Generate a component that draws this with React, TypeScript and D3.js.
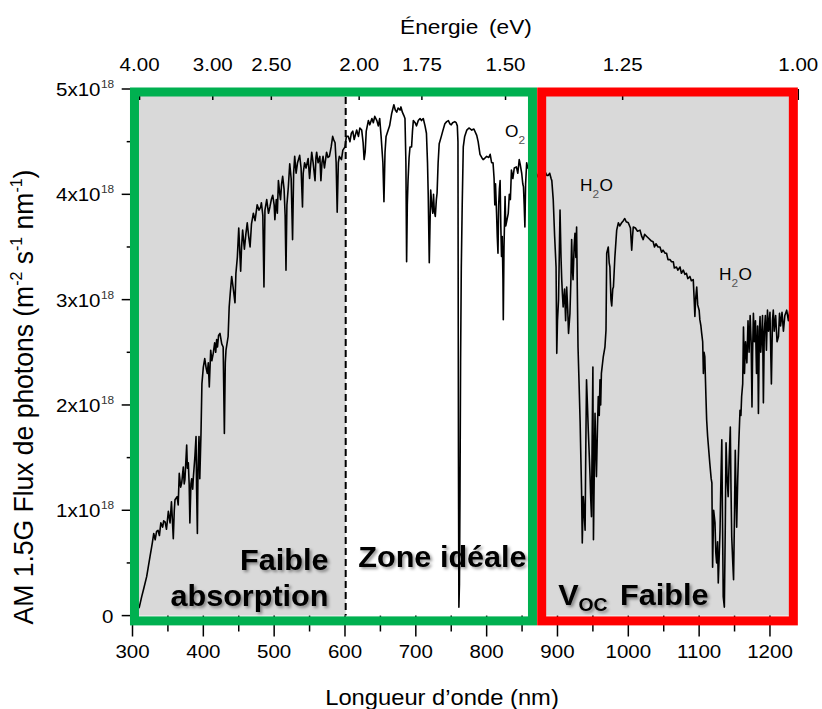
import React from 'react';
import * as d3 from 'd3';

// AM1.5G photon flux spectrum: [wavelength nm, flux in 1e18 m-2 s-1 nm-1]
const spectrum: [number, number][] = [
  [300,0.0],[303,0.02],[306,0.05],[309.6,0.08],[313,0.18],[316,0.26],[320,0.37],[322,0.45],[324.7,0.56],[327,0.65],
  [328,0.69],[330,0.78],[332,0.72],[334,0.8],[336,0.81],[338,0.76],[340,0.88],[342.6,0.84],[344,0.9],[346,0.89],
  [348,0.82],[350.6,0.99],[353,0.88],[355,1.08],[356,0.95],[357.6,0.73],[359,1.0],[360,1.1],[363,1.13],[364.5,1.05],
  [366,1.35],[368,1.22],[369.5,1.26],[371.7,1.41],[373,1.25],[374,1.29],[376.5,1.62],[377.5,1.4],[378.8,1.45],[380,1.25],
  [381,0.88],[382.5,1.25],[383.6,1.3],[385,1.2],[386,1.32],[388,1.5],[389.7,1.7],[390.5,1.2],[391.6,0.78],[392.5,1.4],
  [393.9,1.7],[395,1.3],[396.7,1.73],[398,2.2],[400,2.36],[402,2.44],[404,2.35],[405.6,2.3],[407,2.4],[408.4,2.17],
  [410.4,2.52],[412,2.42],[414,2.49],[416,2.59],[417.5,2.5],[418.8,2.62],[420,2.55],[421.5,2.66],[423.5,2.68],[426,2.58],
  [428,2.55],[429.7,1.73],[431,2.4],[432,2.52],[435,2.65],[436.5,2.93],[438,3.06],[440,3.22],[442,3.12],[444.7,2.97],
  [446,3.25],[448,3.4],[450,3.68],[451.5,3.45],[452.7,3.27],[454,3.5],[455.5,3.66],[457,3.55],[458,3.48],[460,3.62],
  [462,3.73],[464,3.6],[466,3.5],[468,3.72],[470.6,3.82],[473,3.75],[476,3.9],[478.7,3.85],[481,3.88],[482,3.92],
  [484,3.8],[485.6,3.12],[487,3.85],[489.5,3.95],[492,3.82],[494,3.88],[496,3.95],[498,3.99],[500,3.9],[501,3.76],
  [503,3.95],[504.5,3.82],[506,4.13],[508,4.0],[509,3.95],[510.5,4.1],[512,4.17],[514,4.05],[515.5,3.8],[516.7,3.28],
  [518,3.9],[520,4.07],[522,4.29],[524,4.15],[526,3.57],[527.5,4.2],[529,4.36],[531,4.2],[533,4.3],[536,4.37],
  [538,4.25],[540,3.88],[541,4.2],[543,4.3],[545,4.25],[548,4.34],[550,4.15],[553,4.4],[555,4.3],[557.7,4.13],
  [559,4.35],[560,4.4],[562,4.3],[564.5,4.36],[566,4.13],[567.5,4.3],[569,4.36],[571,4.25],[574,4.4],[576,4.35],
  [578,4.36],[580.5,4.45],[582.6,4.55],[584,4.52],[586,4.49],[587.5,4.3],[589,3.83],[590.6,4.3],[592,4.36],[595,4.33],
  [597,4.42],[600,4.45],[602,4.55],[604.7,4.55],[607,4.5],[609,4.58],[611,4.6],[613,4.52],[616.5,4.61],[619,4.55],
  [621,4.63],[623.6,4.61],[625.6,4.49],[627,4.33],[628.5,4.4],[630,4.6],[633,4.7],[635,4.66],[638,4.72],[640,4.68],
  [642,4.74],[645,4.7],[647,4.65],[649,4.72],[651,4.55],[652,4.45],[653.5,4.3],[655,3.93],[656.5,4.4],[658,4.55],
  [661,4.61],[663,4.65],[666,4.77],[669,4.85],[671,4.8],[673,4.78],[675,4.82],[677.7,4.8],[679,4.83],[681,4.78],
  [683,4.75],[684.7,4.72],[686,4.3],[687,3.36],[688,3.9],[689,4.13],[690.5,4.35],[691.8,4.45],[694,4.45],[695.3,4.6],
  [696.5,4.7],[699,4.68],[701,4.65],[703.5,4.7],[706,4.72],[708,4.7],[710.5,4.72],[713,4.65],[715,4.58],[716.5,4.3],
  [717.5,4.0],[719,3.35],[720,3.7],[721,4.04],[722.5,3.9],[724,3.82],[725,4.0],[726,3.85],[727.5,3.79],[729,3.95],
  [730,4.01],[731.5,4.3],[733,4.48],[736,4.55],[738,4.6],[741,4.67],[743.6,4.69],[746,4.7],[748,4.67],[750,4.66],
  [752,4.68],[755,4.69],[757,4.68],[758.6,4.65],[759.5,4.5],[760.2,1.5],[760.8,0.08],[761.6,0.3],[762.4,1.2],[763.2,2.4],
  [764.2,3.3],[765.5,3.9],[767,4.45],[769,4.55],[772,4.61],[775,4.63],[779,4.61],[782,4.62],[786,4.56],[788,4.5],
  [790.6,4.38],[793,4.35],[795,4.33],[797,4.34],[800,4.36],[803,4.35],[805,4.38],[807,4.3],[809,4.3],[810.5,4.15],
  [811.5,3.9],[812.5,4.1],[814,3.82],[815,3.6],[816,3.44],[817,3.9],[818,4.05],[819,4.13],[820,3.7],[821,3.41],
  [822,3.6],[823,3.2],[823.5,2.81],[824.5,3.5],[826,3.98],[827,3.7],[828.5,3.75],[830.5,3.82],[832,4.0],[833.5,3.95],
  [835,4.23],[837,4.15],[839,4.25],[842,4.26],[844,4.2],[846,4.33],[847.5,4.28],[849.5,4.2],[851,4.1],[852,4.07],
  [853,3.9],[854,3.69],[855,4.1],[856.5,4.3],[858,4.25],[860,4.28],[863,4.22],[866,4.25],[870,4.2],[874,4.15],
  [878,4.2],[882,4.22],[885,4.18],[887,4.18],[889,4.2],[891,4.15],[892,4.13],[894,3.95],[896,3.6],[898,3.31],
  [899,2.49],[900,2.8],[901.5,3.0],[903.6,3.85],[905,3.4],[906,3.19],[907,3.05],[908,2.93],[910,3.1],[911.5,2.8],
  [913,3.12],[914.5,2.9],[915.6,2.68],[917.6,2.87],[919,3.2],[920,3.57],[921,3.3],[922,3.19],[923.5,3.5],[924.7,3.63],
  [926,3.4],[927,3.69],[928,3.1],[929,2.55],[930.5,2.2],[932,1.83],[933,1.5],[934,1.19],[935,0.69],[936.4,1.13],
  [937.5,1.0],[939,0.81],[940,1.6],[941,2.24],[942.3,2.0],[943.5,1.76],[945,1.5],[946,1.32],[947,1.1],[948,0.94],
  [949,1.7],[950,2.36],[950.8,0.72],[952,1.4],[953,1.92],[954,1.6],[955,1.32],[956.5,1.8],[957.6,2.08],[959,1.9],
  [960,2.24],[961,2.0],[962,2.3],[964.7,2.46],[967,2.55],[968.5,2.71],[969.5,3.44],[971.7,3.5],[973,3.35],[974,3.31],
  [975.5,3.0],[976.6,2.94],[978,3.1],[979,3.12],[981,3.4],[983.6,3.66],[986,3.73],[988,3.7],[990.6,3.73],[993,3.75],
  [995,3.77],[997,3.74],[1000,3.73],[1003,3.68],[1004.8,3.47],[1006,3.6],[1007,3.69],[1010,3.68],[1013,3.65],[1016.5,3.66],
  [1019,3.6],[1021,3.57],[1023,3.62],[1026,3.6],[1029,3.58],[1032,3.56],[1035,3.55],[1037,3.5],[1039,3.53],[1042,3.5],
  [1044.7,3.5],[1047,3.45],[1049,3.47],[1052,3.44],[1054,3.44],[1056,3.38],[1059,3.38],[1061,3.36],[1063.5,3.36],[1065,3.3],
  [1068,3.31],[1070,3.28],[1073,3.31],[1075,3.25],[1077.6,3.28],[1080,3.24],[1082,3.25],[1084,3.2],[1087,3.22],[1089,3.18],
  [1091.7,3.19],[1093,3.0],[1094,2.84],[1095,3.0],[1096.6,3.12],[1098,2.95],[1100,2.9],[1101,2.81],[1102.5,2.75],[1103.6,2.68],
  [1105,2.6],[1106,2.3],[1107,2.5],[1108,2.46],[1109.5,2.1],[1110.6,1.86],[1112,1.7],[1115,1.45],[1117,1.3],[1118,1.26],
  [1119,0.46],[1120.5,1.0],[1122.4,0.88],[1123.5,0.6],[1124.7,0.5],[1126,0.7],[1127,0.31],[1128.5,0.6],[1129.5,0.81],[1130.5,1.2],
  [1132,1.67],[1133,0.9],[1134,0.18],[1135.6,0.08],[1137,0.9],[1138,1.64],[1139.5,1.3],[1141,1.13],[1142.5,1.5],[1144,1.79],
  [1145,1.2],[1146,0.75],[1147.5,0.5],[1148.6,0.34],[1150,1.0],[1151,1.57],[1152,1.2],[1153,0.84],[1154.5,1.3],[1156,1.64],
  [1157.7,1.95],[1159,1.9],[1160,2.08],[1161.5,2.2],[1162.6,2.74],[1164,2.3],[1165.5,2.6],[1167.4,2.4],[1169,2.8],[1170.5,2.5],
  [1172,2.85],[1173.5,2.58],[1174.6,1.98],[1175.5,2.5],[1176.6,2.87],[1178,2.6],[1179.5,2.8],[1181,2.3],[1182.5,2.75],[1183.7,1.92],
  [1185,2.7],[1186,2.84],[1187,2.5],[1188,2.62],[1189.5,2.85],[1190.7,2.02],[1192,2.7],[1193.5,2.85],[1195,2.52],[1196.5,2.9],
  [1198,2.7],[1200,2.88],[1202,2.2],[1203.5,2.8],[1204.7,2.9],[1206,2.7],[1208,2.85],[1210,2.6],[1212,2.65],[1213.5,2.87],
  [1215,2.75],[1217,2.88],[1219,2.7],[1221,2.85],[1223.6,2.9],[1226,2.8],[1228,2.9],[1230,2.88],[1233,2.9],
];

const wavelengthTicks = [300, 400, 500, 600, 700, 800, 900, 1000, 1100, 1200];
const wavelengthMinorTicks = [350, 450, 550, 650, 750, 850, 950, 1050, 1150];
const fluxTicks = [0, 1, 2, 3, 4, 5];
const fluxMinorTicks = [0.5, 1.5, 2.5, 3.5, 4.5];
const energyTicks = [4.0, 3.0, 2.5, 2.0, 1.75, 1.5, 1.25, 1.0];
const energyLabels = ['4.00', '3.00', '2.50', '2.00', '1.75', '1.50', '1.25', '1.00'];

// zones in nm
const grayBands: [number, number][] = [[300, 601], [877.7, 1233]];
const zoneBoxes = [
  { from: 302.8, to: 864.7, color: '#00b050' },
  { from: 877.7, to: 1233, color: '#ff0000' },
];
const dividerNm = 601;

const FONT = '"Liberation Sans", Arial, sans-serif';
const SX = 1.08;
const SXB = 1.02;

const W = 822, H = 709;
const x = d3.scaleLinear().domain([300, 1240]).range([132.5, 798.3]);
const y = d3.scaleLinear().domain([0, 5]).range([615.6, 89]);

function Txt(props: any) {
  const { x: tx, y: ty, size, anchor = 'start', weight = 'normal', fill = '#000', children, filter, rotate, sx } = props;
  const s = sx ?? (weight === 'bold' ? SXB : SX);
  const tr = rotate
    ? `translate(${tx},${ty}) rotate(-90) scale(1,${s})`
    : `translate(${tx},${ty}) scale(${s},1)`;
  return (
    <text transform={tr} fontSize={size} textAnchor={anchor} fontWeight={weight} fill={fill}
      fontFamily={FONT} filter={filter}>{children}</text>
  );
}

export default function App() {
  const line = d3.line<[number, number]>().x(d => x(d[0])).y(d => y(d[1]));
  const path = line(spectrum) || '';
  const top = y(5), bottom = y(0);
  const boxTop = top + 3, boxBottom = bottom + 5.3;

  return (
    <svg width={W} height={H} style={{ position: 'absolute', left: 0, top: 0, background: '#fff' }}>
      <defs>
        <filter id="shadow" x="-10%" y="-30%" width="130%" height="170%">
          <feDropShadow dx="2" dy="2" stdDeviation="1.5" floodColor="#000" floodOpacity="0.4" />
        </filter>
      </defs>
      <rect x={0} y={0} width={W} height={H} fill="#fff" />
      {grayBands.map((b, i) => (
        <rect key={i} x={x(b[0])} y={top} width={x(b[1]) - x(b[0])} height={bottom - top} fill="#d9d9d9" />
      ))}
      <path d={path} fill="none" stroke="#000" strokeWidth={1.6} strokeLinejoin="round" />
      <line x1={x(dividerNm)} x2={x(dividerNm)} y1={top + 8} y2={bottom} stroke="#000" strokeWidth={2} strokeDasharray="7,4" />
      {/* axes ticks */}
      <line x1={x(300)} x2={x(300)} y1={top} y2={bottom} stroke="#000" />
      {fluxTicks.map(t => (
        <line key={'ly' + t} x1={121.7} x2={x(300)} y1={y(t)} y2={y(t)} stroke="#000" strokeWidth={1.5} />
      ))}
      {fluxMinorTicks.map(t => (
        <line key={'lym' + t} x1={126.7} x2={x(300)} y1={y(t)} y2={y(t)} stroke="#000" strokeWidth={1.5} />
      ))}
      {wavelengthTicks.map(t => (
        <line key={'bx' + t} x1={x(t)} x2={x(t)} y1={bottom} y2={636.5} stroke="#000" strokeWidth={1.5} />
      ))}
      {wavelengthMinorTicks.map(t => (
        <line key={'bxm' + t} x1={x(t)} x2={x(t)} y1={bottom} y2={631.5} stroke="#000" strokeWidth={1.5} />
      ))}
      {energyTicks.map(e => (
        <line key={'te' + e} x1={x(1240 / e)} x2={x(1240 / e)} y1={top} y2={top + 11} stroke="#000" strokeWidth={1.5} />
      ))}
      {/* zone boxes */}
      {zoneBoxes.map((z, i) => (
        <rect key={i} x={x(z.from)} y={boxTop} width={x(z.to) - x(z.from)} height={boxBottom - boxTop}
          fill="none" stroke={z.color} strokeWidth={9} />
      ))}
      {/* tick labels */}
      {wavelengthTicks.map(t => (
        <Txt key={'bl' + t} x={x(t)} y={658} size={19} anchor="middle">{t}</Txt>
      ))}
      {fluxTicks.map(t => t === 0 ? (
        <Txt key={'yl' + t} x={113.5} y={y(t) + 7} size={19} anchor="end">0</Txt>
      ) : (
        <g key={'yl' + t}>
          <Txt x={100.5} y={y(t) + 7} size={19} anchor="end">{`${t}x10`}</Txt>
          <Txt x={101} y={y(t) - 1} size={11} fill="#333">18</Txt>
        </g>
      ))}
      {energyTicks.map((e, i) => (
        <Txt key={'el' + e} x={x(1240 / e)} y={71} size={19} anchor="middle">{energyLabels[i]}</Txt>
      ))}
      {/* titles */}
      <Txt x={466} y={34} size={21} anchor="middle">
        <tspan>Énergie</tspan><tspan dx={10}>(eV)</tspan>
      </Txt>
      <Txt x={442} y={705} size={22} anchor="middle">Longueur d’onde (nm)</Txt>
      <Txt x={32.5} y={397} size={26.5} anchor="middle" rotate sx={1.05}>
        <tspan>AM 1.5G Flux de photons (m</tspan>
        <tspan fontSize={16} dy={-10}>-2</tspan>
        <tspan dy={10}> s</tspan>
        <tspan fontSize={16} dy={-10}>-1</tspan>
        <tspan dy={10}> nm</tspan>
        <tspan fontSize={16} dy={-10}>-1</tspan>
        <tspan dy={10}>)</tspan>
      </Txt>
      {/* zone labels */}
      <Txt x={328.5} y={570} size={30} weight="bold" anchor="end" filter="url(#shadow)">Faible</Txt>
      <Txt x={328.5} y={606} size={30} weight="bold" anchor="end" filter="url(#shadow)">absorption</Txt>
      <Txt x={358.3} y={567} size={30} weight="bold" filter="url(#shadow)">Zone idéale</Txt>
      <Txt x={558.3} y={605} size={30} weight="bold" filter="url(#shadow)">V</Txt>
      <Txt x={578.5} y={610.5} size={19} weight="bold" filter="url(#shadow)">OC</Txt>
      <Txt x={620} y={605} size={30} weight="bold" filter="url(#shadow)">Faible</Txt>
      {/* molecule labels */}
      <Txt x={505} y={137} size={16}>O</Txt>
      <Txt x={518.5} y={144} size={11} fill="#555">2</Txt>
      <Txt x={580} y={191} size={16}>H</Txt>
      <Txt x={592.5} y={198} size={11} fill="#555">2</Txt>
      <Txt x={599.5} y={191} size={16}>O</Txt>
      <Txt x={719} y={280} size={16}>H</Txt>
      <Txt x={731.5} y={287} size={11} fill="#555">2</Txt>
      <Txt x={738.5} y={280} size={16}>O</Txt>
    </svg>
  );
}
